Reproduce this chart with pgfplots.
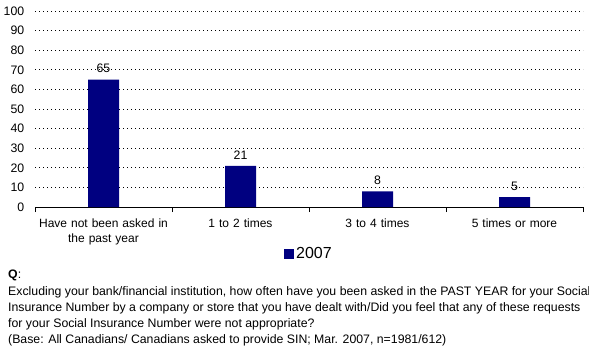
\documentclass[border=0pt]{standalone}
\usepackage{pgfplots}
\pgfplotsset{compat=1.18}
\usepackage{fontspec}
\setmainfont{Liberation Sans}
\definecolor{navy}{HTML}{000080}
\newcommand{\fs}{\fontsize{12.3bp}{15bp}\selectfont}
\begin{document}
\begin{tikzpicture}
\path[use as bounding box] (0,0) rectangle (589bp,-354bp);
\begin{axis}[
  at={(35bp,-207bp)}, anchor=south west,
  scale only axis, width=548bp, height=196bp,
  xmin=-0.5, xmax=3.5, ymin=0, ymax=100,
  ybar, bar width=31bp,
  axis x line*=bottom, axis y line*=left,
  y axis line style={draw=none},
  x axis line style={line width=0.8bp},
  ytick={0,10,...,100},
  ymajorgrids,
  grid style={black, dash pattern=on 1bp off 3bp, line width=0.8bp},
  ytick style={draw=none},
  major y tick style={draw=none},
  xtick={0,1,2,3},
  xticklabels={{Have not been asked in\\the past year},{1 to 2 times},{3 to 4 times},{5 times or more}},
  major x tick style={draw=none},
  minor xtick={-0.5,0.5,1.5,2.5,3.5},
  minor x tick style={black, line width=0.8bp},
  minor tick length=5bp,
  tick align=outside,
  /pgf/number format/assume math mode=true,
  yticklabel style={font=\fs, anchor=east, xshift=-3bp},
  xticklabel style={font=\fontsize{12bp}{15bp}\selectfont, align=center, text width=150bp, anchor=north, yshift=-4bp},
  nodes near coords,
  nodes near coords style={font=\fs, black, yshift=3bp},
  legend style={at={(0.5,-0.24)}, anchor=center, draw=none, fill=none, font=\fontsize{16bp}{18bp}\selectfont, inner sep=0pt},
  legend image code/.code={\fill[navy] (0bp,-5bp) rectangle (10bp,5bp);},
]
\addplot[fill=navy, draw=none] coordinates {(0,65) (1,21) (2,8) (3,5)};
\addlegendentry{2007}
\end{axis}
\begin{scope}[every node/.style={anchor=base west, inner sep=0pt, font=\fs}]
\node at (8bp,-278bp) {\bfseries Q\mdseries:};
\node at (8bp,-295bp) {Excluding your bank/financial institution, how often have you been asked in the PAST YEAR for your Social};
\node at (8bp,-311bp) {Insurance Number by a company or store that you have dealt with/Did you feel that any of these requests};
\node at (8bp,-327bp) {for your Social Insurance Number were not appropriate?};
\node at (8bp,-343bp) {(Base: All Canadians/ Canadians asked to provide SIN; Mar. 2007, n=1981/612)};
\end{scope}
\end{tikzpicture}
\end{document}
